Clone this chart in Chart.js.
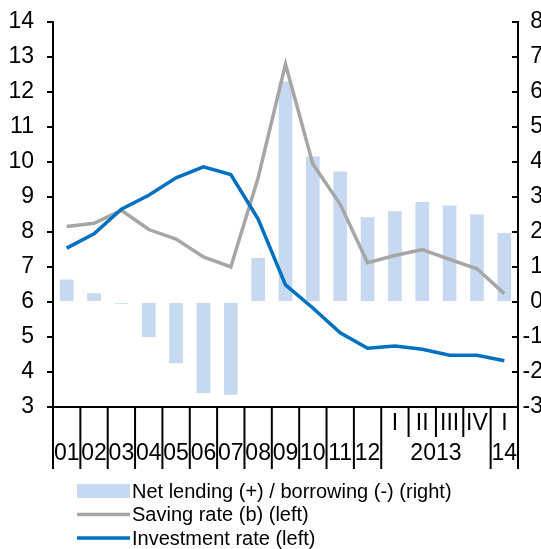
<!DOCTYPE html>
<html>
<head>
<meta charset="utf-8">
<script src="https://cdn.jsdelivr.net/npm/chart.js@4"></script>
<style>
  body { margin: 0; background: #fff; }
</style>
</head>
<body>
<canvas id="chart" width="541" height="549"></canvas>
<script>
// Categories: years 2001-2012, quarters of 2013 and 2014 Q1
const periods = ['01', '02', '03', '04', '05', '06', '07', '08', '09', '10', '11', '12', '2013 I', '2013 II', '2013 III', '2013 IV', '14 I'];
const yearLabels = ['01', '02', '03', '04', '05', '06', '07', '08', '09', '10', '11', '12'];
const quarterLabels = ['I', 'II', 'III', 'IV', 'I'];

const netLending = [0.64, 0.25, -0.05, -1.0, -1.75, -2.6, -2.65, 1.26, 6.3, 4.16, 3.73, 2.42, 2.59, 2.86, 2.76, 2.5, 1.97];
const savingRate = [8.16, 8.25, 8.62, 8.07, 7.8, 7.29, 7.0, 9.55, 12.8, 9.94, 8.79, 7.12, 7.33, 7.5, 7.22, 6.95, 6.24];
const investmentRate = [7.54, 7.95, 8.65, 9.05, 9.55, 9.86, 9.64, 8.37, 6.49, 5.83, 5.12, 4.68, 4.74, 4.65, 4.48, 4.48, 4.32];

const FONT = '"Liberation Sans Narrow", "Liberation Sans", Arial, sans-serif';
const LEGEND_FONT = '"Liberation Sans", Arial, sans-serif';

// Right axis labels run slightly off the canvas edge like in the source
const pushRightLabels = {
    id: 'pushRightLabels',
    afterLayout(chart) {
        chart.scales.y1.right = 543;
    }
};

// Two-level x axis labels and separators
const xAxisLabels = {
    id: 'xAxisLabels',
    afterDraw(chart) {
        const ctx = chart.ctx;
        const x = chart.scales.x;
        const top = chart.chartArea.bottom;
        const w = x.getPixelForValue(1) - x.getPixelForValue(0);
        const edge = i => x.getPixelForValue(i) - w / 2;

        ctx.save();
        ctx.strokeStyle = '#000';
        ctx.lineWidth = 2;
        for (let i = 0; i <= periods.length; i++) {
            const short = i >= 13 && i <= 15;
            ctx.beginPath();
            ctx.moveTo(edge(i), top);
            ctx.lineTo(edge(i), top + (short ? 30 : 62));
            ctx.stroke();
        }

        ctx.fillStyle = '#000';
        ctx.font = '23px ' + FONT;
        ctx.textAlign = 'center';
        ctx.textBaseline = 'middle';
        yearLabels.forEach((lab, i) => ctx.fillText(lab, x.getPixelForValue(i), top + 47));
        quarterLabels.forEach((lab, i) => ctx.fillText(lab, x.getPixelForValue(12 + i), top + 17));
        ctx.fillText('2013', (edge(12) + edge(16)) / 2, top + 47);
        ctx.fillText('14', x.getPixelForValue(16), top + 47);
        ctx.restore();
    }
};

// Legend stacked under the axis
const stackedLegend = {
    id: 'stackedLegend',
    afterDraw(chart) {
        const ctx = chart.ctx;
        const items = chart.data.datasets.slice().sort((a, b) => b.order - a.order);
        ctx.save();
        ctx.font = '20px ' + LEGEND_FONT;
        ctx.textBaseline = 'middle';
        items.forEach((ds, i) => {
            const y = 491 + i * 23.5;
            if (ds.type === 'bar') {
                ctx.fillStyle = ds.backgroundColor;
                ctx.fillRect(77, y - 7, 53, 14);
            } else {
                ctx.strokeStyle = ds.borderColor;
                ctx.lineWidth = 3.5;
                ctx.beginPath();
                ctx.moveTo(77, y);
                ctx.lineTo(130, y);
                ctx.stroke();
            }
            ctx.fillStyle = '#000';
            ctx.fillText(ds.label, 132, y + 1);
        });
        ctx.restore();
    }
};

new Chart(document.getElementById('chart'), {
    data: {
        labels: periods,
        datasets: [
            {
                type: 'bar',
                label: 'Net lending (+) / borrowing (-) (right)',
                data: netLending,
                yAxisID: 'y1',
                backgroundColor: '#c6d9f1',
                barPercentage: 0.5,
                categoryPercentage: 1,
                order: 3
            },
            {
                type: 'line',
                label: 'Saving rate (b) (left)',
                data: savingRate,
                yAxisID: 'y',
                borderColor: '#a6a6a6',
                borderWidth: 3.5,
                pointRadius: 0,
                tension: 0,
                order: 2
            },
            {
                type: 'line',
                label: 'Investment rate (left)',
                data: investmentRate,
                yAxisID: 'y',
                borderColor: '#0070c0',
                borderWidth: 3.5,
                pointRadius: 0,
                tension: 0,
                order: 1
            }
        ]
    },
    options: {
        responsive: false,
        animation: false,
        devicePixelRatio: 1,
        layout: { padding: { top: 22, left: 0, right: 0, bottom: 0 } },
        plugins: {
            legend: { display: false },
            tooltip: { enabled: false }
        },
        scales: {
            x: {
                offset: true,
                ticks: { display: false },
                grid: { display: false },
                border: { display: true, color: '#000', width: 2 },
                afterFit: scale => { scale.height = 142; }
            },
            y: {
                position: 'left',
                min: 3,
                max: 14,
                ticks: { stepSize: 1, color: '#000', padding: 13, font: { size: 23, family: FONT } },
                grid: { drawOnChartArea: false, color: '#000', tickLength: 6, lineWidth: 2 },
                border: { display: true, color: '#000', width: 2 },
                afterFit: scale => {
                    scale.width = 53;
                    scale.paddingTop = 0;
                    scale.paddingBottom = 0;
                }
            },
            y1: {
                position: 'right',
                min: -3,
                max: 8,
                ticks: { stepSize: 1, color: '#000', padding: 6, crossAlign: 'far', font: { size: 23, family: FONT } },
                grid: { drawOnChartArea: false, color: '#000', tickLength: -6, lineWidth: 2 },
                border: { display: true, color: '#000', width: 2 },
                afterFit: scale => {
                    scale.width = 23;
                    scale.paddingTop = 0;
                    scale.paddingBottom = 0;
                }
            }
        }
    },
    plugins: [pushRightLabels, xAxisLabels, stackedLegend]
});
</script>
</body>
</html>
